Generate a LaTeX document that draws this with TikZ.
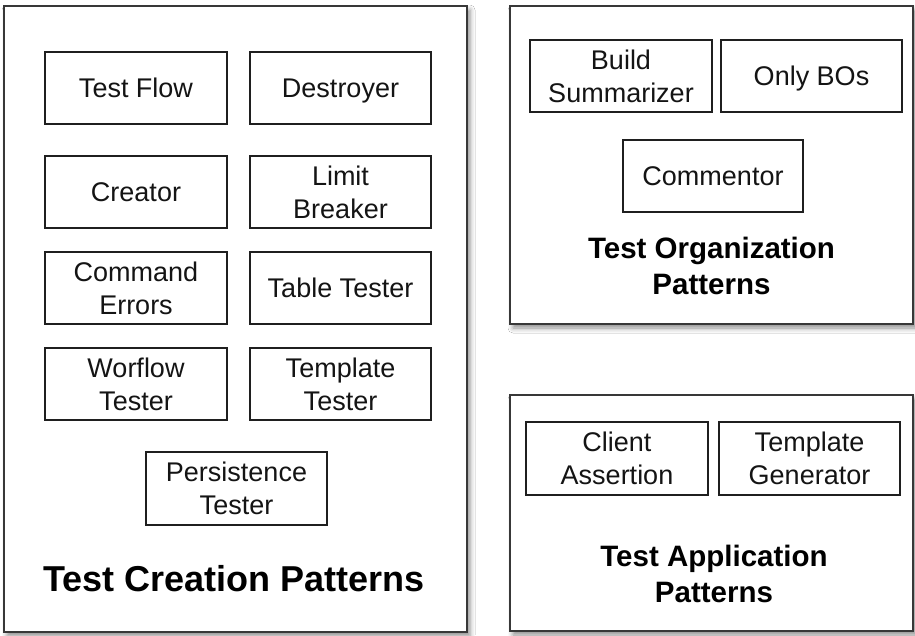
\documentclass[tikz,border=0pt]{standalone}
\usepackage{fontspec}
\setmainfont{Liberation Sans}
\usetikzlibrary{shadows.blur}
\tikzset{
  panel/.style={draw=black!78, line width=2pt, fill=white, rectangle, inner sep=0pt,
    blur shadow={shadow xshift=3pt, shadow yshift=-4pt, shadow blur radius=5pt, shadow opacity=45}},
  item/.style={draw=black!88, line width=1.4pt, fill=white, rectangle, inner sep=0pt,
    minimum height=72pt, align=center, text depth=0pt, text=black!92,
    font=\fontsize{27}{33}\selectfont},
  bigtitle/.style={align=center, text=black, inner sep=0pt, font=\bfseries\fontsize{36}{40}\selectfont},
  subtitle/.style={align=center, text=black, inner sep=0pt, text depth=0pt, font=\bfseries\fontsize{29.5}{36}\selectfont}
}
\begin{document}
\begin{tikzpicture}[x=1pt,y=-1pt]
\useasboundingbox[fill=white] (0,0) rectangle (915,635);
% panels
\node[panel, minimum width=463pt, minimum height=626pt] (creation) at (235.5,319) {};
\node[panel, minimum width=403pt, minimum height=318pt] (organization) at (711.5,165) {};
\node[panel, minimum width=403pt, minimum height=236pt] (application) at (711.5,513) {};
% creation items
\node[item, minimum width=182pt] (testflow) at (136,88) {Test Flow};
\node[item, minimum width=181pt] (destroyer) at (340.5,88) {Destroyer};
\node[item, minimum width=182pt] (creator) at (136,192) {Creator};
\node[item, minimum width=181pt] (limit) at (340.5,192) {Limit\\Breaker};
\node[item, minimum width=182pt] (command) at (136,288) {Command\\Errors};
\node[item, minimum width=181pt] (table) at (340.5,288) {Table Tester};
\node[item, minimum width=182pt] (workflow) at (136,384) {Worflow\\Tester};
\node[item, minimum width=181pt] (templatetester) at (340.5,384) {Template\\Tester};
\node[item, minimum width=181pt, minimum height=73pt] (persistence) at (236.5,488.5) {Persistence\\Tester};
\node[bigtitle] (creationtitle) at (234,579) {Test Creation Patterns};
% organization items
\node[item, minimum width=182pt] (build) at (621,76) {Build\\Summarizer};
\node[item, minimum width=181pt] (onlybos) at (811.5,76) {Only BOs};
\node[item, minimum width=180pt] (commentor) at (713,176) {Commentor};
\node[subtitle] (orgtitle) at (711.5,266) {Test Organization\\Patterns};
% application items
\node[item, minimum width=182pt, minimum height=73pt] (client) at (617,458.5) {Client\\Assertion};
\node[item, minimum width=181pt, minimum height=73pt] (generator) at (809.5,458.5) {Template\\Generator};
\node[subtitle] (apptitle) at (714,573.5) {Test Application\\Patterns};
\end{tikzpicture}
\end{document}
